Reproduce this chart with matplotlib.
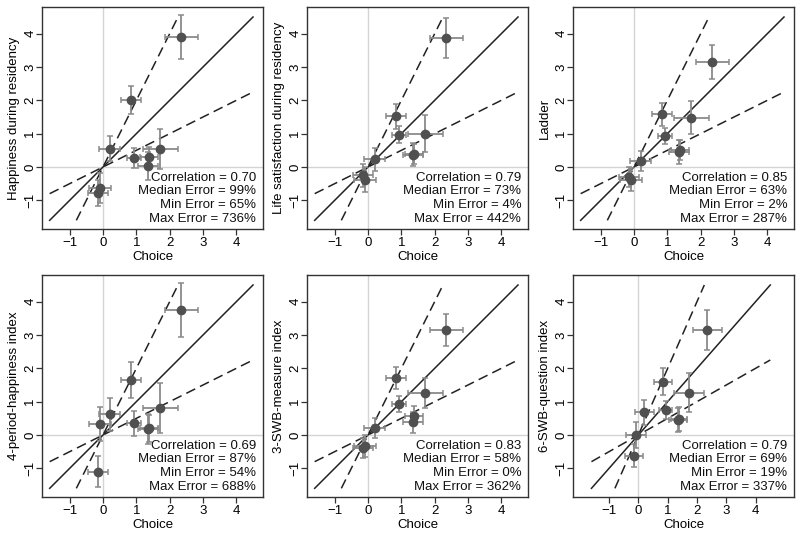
import numpy as np
import matplotlib.pyplot as plt

plt.rcParams['font.family'] = ['Liberation Sans', 'DejaVu Sans']

# choice estimates (x) and their error bars, same for all panels
choice = [-0.15, -0.08, 0.2, 0.84, 0.93, 1.35, 1.38, 1.72, 2.35]
choice_err = [0.3, 0.33, 0.32, 0.3, 0.22, 0.3, 0.28, 0.52, 0.5]

labels = ['Happiness during residency', 'Life satisfaction during residency', 'Ladder',
          '4-period-happiness index', '3-SWB-measure index', '6-SWB-question index']

y_hap = [-0.78, -0.63, 0.55, 2.02, 0.28, 0.03, 0.3, 0.55, 3.9]
e_hap = [0.4, 0.45, 0.38, 0.42, 0.3, 0.42, 0.3, 0.6, 0.65]
y_life = [-0.25, -0.38, 0.23, 1.52, 0.97, 0.37, 0.4, 1.0, 3.88]
e_life = [0.35, 0.38, 0.35, 0.37, 0.25, 0.35, 0.3, 0.55, 0.6]
y_ladder = [-0.3, -0.38, 0.18, 1.58, 0.93, 0.45, 0.5, 1.48, 3.15]
e_ladder = [0.3, 0.35, 0.3, 0.35, 0.25, 0.35, 0.3, 0.5, 0.52]
y_4p = [-1.1, 0.33, 0.62, 1.65, 0.35, 0.18, 0.2, 0.8, 3.75]
e_4p = [0.47, 0.5, 0.5, 0.55, 0.37, 0.45, 0.4, 0.75, 0.82]
y_3swb = [-0.4, -0.33, 0.2, 1.72, 0.93, 0.38, 0.58, 1.25, 3.15]
e_3swb = [0.3, 0.32, 0.3, 0.33, 0.25, 0.32, 0.28, 0.45, 0.48]
y_6swb = [-0.62, 0.0, 0.68, 1.6, 0.75, 0.45, 0.48, 1.27, 3.15]
e_6swb = [0.35, 0.4, 0.38, 0.4, 0.28, 0.37, 0.35, 0.58, 0.6]

ys = [y_hap, y_life, y_ladder, y_4p, y_3swb, y_6swb]
es = [e_hap, e_life, e_ladder, e_4p, e_3swb, e_6swb]

corr = ['0.70', '0.79', '0.85', '0.69', '0.83', '0.79']
med_err = ['99%', '73%', '63%', '87%', '58%', '69%']
min_err = ['65%', '4%', '2%', '54%', '0%', '19%']
max_err = ['736%', '442%', '287%', '688%', '362%', '337%']

xlims = [(-1.83, 4.8)] * 5 + [(-2.23, 5.31)]

fig = plt.figure(figsize=(8, 5.36), dpi=100)
lefts = [42, 307, 573]
tops = [7, 275]
W, H = 800, 536

for i in range(6):
    r, c = divmod(i, 3)
    ax = fig.add_axes([lefts[c] / W, 1 - (tops[r] + 222) / H, 221 / W, 222 / H])
    ax.axhline(0, color='#d4d4d4', lw=1, zorder=0)
    ax.axvline(0, color='#d4d4d4', lw=1, zorder=0)
    ax.plot([-1.6, 4.5], [-1.6, 4.5], color='#222222', lw=1.1, zorder=1)
    ax.plot([-0.8, 2.25], [-1.6, 4.5], color='#222222', lw=1.1, ls=(0, (6.5, 3.5)), zorder=1)
    ax.plot([-1.6, 4.5], [-0.8, 2.25], color='#222222', lw=1.1, ls=(0, (6.5, 3.5)), zorder=1)
    ax.errorbar(choice, ys[i], xerr=choice_err, yerr=es[i], fmt='o', color='#505050',
                ms=6, ecolor='#8a8a8a', elinewidth=1.3, capsize=2.5, capthick=1.1, zorder=3)
    ax.set_xlim(*xlims[i])
    ax.set_ylim(-1.86, 4.8)
    ax.set_xticks([-1, 0, 1, 2, 3, 4])
    ax.set_yticks([-1, 0, 1, 2, 3, 4])
    ax.tick_params(labelsize=9.5, length=4, width=0.9, color='#333333', pad=2)
    ax.tick_params(axis='y', pad=0)
    for lab in ax.get_yticklabels():
        lab.set_rotation(90)
        lab.set_va('center')
    ax.set_xlabel('Choice', fontsize=9.5, labelpad=1)
    ax.set_ylabel(labels[i], fontsize=9.5, labelpad=3)
    for s in ax.spines.values():
        s.set_linewidth(1.0)
        s.set_color('#333333')
    txt = ('Correlation = %s\nMedian Error = %s\nMin Error = %s\nMax Error = %s'
           % (corr[i], med_err[i], min_err[i], max_err[i]))
    ax.text(0.97, 0.018, txt, transform=ax.transAxes, ha='right', va='bottom',
            fontsize=9.5, linespacing=1.2, color='#111111')

fig.savefig('out.png', dpi=100)
